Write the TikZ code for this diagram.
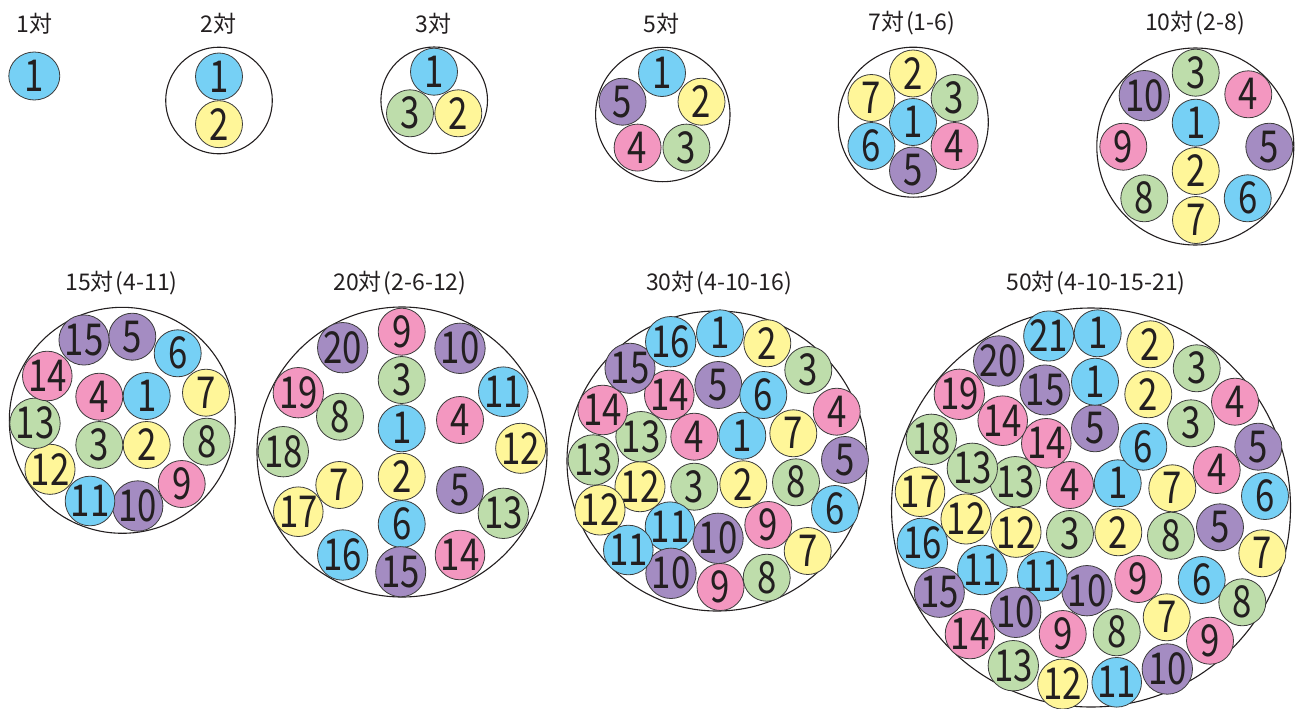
\documentclass[tikz,border=0pt]{standalone}
\usepackage{fontspec}
\usepackage{graphicx}
\setmainfont{Noto Sans CJK JP}
\usetikzlibrary{shapes.geometric}
\definecolor{col0}{RGB}{118,208,245}
\definecolor{col1}{RGB}{255,246,153}
\definecolor{col2}{RGB}{190,221,171}
\definecolor{col3}{RGB}{243,151,192}
\definecolor{col4}{RGB}{164,140,194}
\definecolor{ink}{RGB}{35,31,32}
\definecolor{edge}{RGB}{60,60,60}
\tikzset{
  pr/.style={circle, draw=edge, line width=0.8pt, minimum size=47pt, inner sep=0pt, text=ink, font=\fontsize{44}{44}\selectfont},
  jacket/.style={circle, draw=ink, line width=1.1pt, inner sep=0pt},
  lbl/.style={text=ink, font=\fontsize{23}{23}\selectfont, inner sep=0pt}
}
\newcommand\numtxt[1]{\scalebox{0.79}[1]{#1}}
\newcommand\pairset[2]{%
  \foreach \px/\py/\pn [count=\k] in {#2} {
    \pgfmathtruncatemacro\ci{mod(\pn-1,5)}
    \node[pr, fill=col\ci] (#1-\k) at (\px,\py) {\numtxt{\pn}};
  }}
\begin{document}
\begin{tikzpicture}[x=1pt,y=-1pt]
\useasboundingbox (0,0) rectangle (1295,709);
% ---- labels
\node[lbl] (l1)  at (34.3,23.5) {1対};
\node[lbl] (l2)  at (218.3,23.5) {2対};
\node[lbl] (l3)  at (433.3,23.5) {3対};
\node[lbl] (l5)  at (661.7,23.5) {5対};
\node[lbl] (l7)  at (911.7,23.5) {7対\kern2pt(1-6)};
\node[lbl] (l10) at (1195,23.5) {10対\kern2pt(2-8)};
\node[lbl] (l15) at (121.5,283.5) {15対\kern2pt(4-11)};
\node[lbl] (l20) at (400,283.5) {20対\kern2pt(2-6-12)};
\node[lbl] (l30) at (719,283.5) {30対\kern2pt(4-10-16)};
\node[lbl] (l50) at (1096,283.5) {50対\kern2pt(4-10-15-21)};
% ---- jackets
\node[jacket, minimum size=106.6pt] (o2) at (219,100.5) {};
\node[jacket, minimum size=106.6pt] (o3) at (434.2,100.3) {};
\node[jacket, minimum size=134.4pt] (o5) at (662.8,114.5) {};
\node[jacket, minimum size=150pt] (o7) at (913.3,122.2) {};
\node[jacket, minimum size=197pt] (o10) at (1195.3,146.5) {};
\node[jacket, minimum size=226pt] (o15) at (122.3,420.3) {};
\node[jacket, minimum size=290pt] (o20) at (402,452) {};
\node[jacket, minimum size=300pt] (o30) at (717,461) {};
\node[jacket, minimum size=399pt] (o50) at (1091,507.5) {};
% ---- 1 pair
\node[pr, ellipse, minimum width=51pt, minimum height=48pt, fill=col0] (g1-1) at (34.3,76) {\numtxt{1}};
% ---- 2 pairs
\pairset{g2}{219/76.5/1, 219/124.2/2}
% ---- 3 pairs
\pairset{g3}{434/71.7/1, 458.3/113.3/2, 410/113.3/3}
% ---- 5 pairs
\pairset{g5}{662/73/1, 701.5/101.7/2, 686.4/147.6/3, 637.6/147.6/4, 622.5/101.7/5}
% ---- 7 pairs
\pairset{g7}{913/122/1, 913/73.5/2, 954.6/98/3, 954.6/146/4, 913/170.5/5, 871.4/146/6, 871.4/98/7}
% ---- 10 pairs
\pairset{g10}{1195.7/122.7/1, 1195.7/171/2, 1195.7/72.7/3, 1248.3/94.3/4, 1269.3/146.7/5,
  1247.7/198.3/6, 1196/220/7, 1144.3/198.3/8, 1123.3/146.7/9, 1144.3/95.7/10}
% ---- 15 pairs
\pairset{g15}{146.7/396/1, 146.7/445/2, 99.3/445/3, 99.3/396.7/4, 132.3/336.7/5,
  177.7/353.3/6, 206/392.7/7, 206.7/441.7/8, 181.7/484/9, 137.7/506/10,
  90/501/11, 50/469.3/12, 35/423.3/13, 47.3/376/14, 84/340/15}
% ---- 20 pairs
\pairset{g20}{401.7/428.3/1, 401.7/476.7/2, 401.7/380/3, 460/420/4, 460/490/5,
  401.7/524/6, 339.3/485/7, 340/416.7/8, 401.7/331.7/9, 460/348.3/10,
  503.3/391.7/11, 520.7/448.3/12, 503.3/513.3/13, 460/555/14, 400.7/571.7/15,
  342.7/555/16, 298.3/511.7/17, 283.3/451.7/18, 298.3/392.7/19, 342.7/347.7/20}
% ---- 30 pairs
\pairset{g30}{742.3/435.7/1, 743.3/484.3/2, 694.3/486.7/3, 694.3/436.7/4,
  718.3/385/5, 763.3/395/6, 793.3/433.3/7, 796/482.3/8, 768.3/525/9,
  718/538.3/10, 670/526.7/11, 640/486.7/12, 641/436.7/13, 669.3/395/14,
  720/333.3/1, 767.3/343.3/2, 808.3/370/3, 836.7/411.7/4, 845/460/5,
  835/509/6, 807.7/551/7, 766.7/577.7/8, 720.5/587/9, 671/573.3/10,
  628.3/550/11, 600/510/12, 593.3/460/13, 602.7/410/14, 630/368.3/15, 670.7/341.7/16}
% ---- 50 pairs
\pairset{g50}{1117.7/483.3/1, 1118.3/532.3/2, 1070/534/3, 1070/485/4,
  1095/428.3/5, 1143.3/446.7/6, 1172.3/488.3/7, 1171/535.7/8, 1138.3/579/9,
  1087/590.7/10, 1042.3/576.3/11, 1016/532.3/12, 1015.3/481.7/13, 1046.3/443.3/14,
  1095/381.7/1, 1148.3/394.3/2, 1191/423.3/3, 1216.7/470/4, 1220/527.3/5,
  1201.7/580/6, 1166.7/617.3/7, 1116.7/632.3/8, 1062.7/634/9, 1015.7/612.3/10,
  982.3/570/11, 966/519/12, 972.3/468.3/13, 1002.7/420.7/14, 1045/390/15,
  1097.7/333.3/1, 1150.3/344.3/2, 1196.7/368.3/3, 1235/401.7/4, 1258.3/446.7/5,
  1265/496/6, 1262.3/553.3/7, 1242.3/602.3/8, 1210/640.7/9, 1167.3/669/10,
  1116.7/682.3/11, 1062.7/684/12, 1013.3/665.7/13, 970/634/14, 939.3/592.3/15,
  922.3/543.3/16, 920/491.7/17, 931.3/439.3/18, 959.3/394.3/19, 998.7/361/20, 1048.7/336/21}
\end{tikzpicture}
\end{document}
